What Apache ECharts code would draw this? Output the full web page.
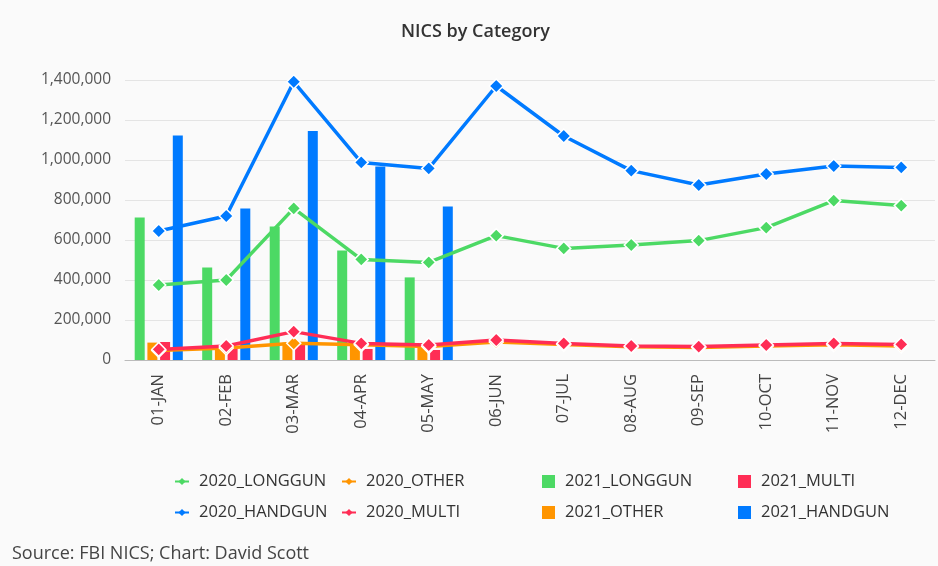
<!DOCTYPE html>
<html>
<head>
<meta charset="utf-8" />
<title>NICS by Category</title>
<script type="text/javascript" src="https://cdn.jsdelivr.net/npm/echarts@6/dist/echarts.min.js"></script>
<style>
  html, body { margin: 0; padding: 0; background: #ffffff; }
  #main { width: 938px; height: 566px; }
</style>
</head>
<body>
<div id="main"></div>
<script type="text/javascript">
    // months
    var months = ['01-JAN','02-FEB','03-MAR','04-APR','05-MAY','06-JUN','07-JUL','08-AUG','09-SEP','10-OCT','11-NOV','12-DEC'];

    // 2020 lines
    var longgun2020 = [375000, 400000, 758000, 503000, 488000, 622000, 558000, 575000, 597000, 662000, 797000, 772000];
    var handgun2020 = [645000, 720000, 1391000, 988000, 958000, 1370000, 1120000, 947000, 875000, 930000, 970000, 963000];
    var other2020 = [48000, 60000, 84000, 76000, 68000, 90000, 78000, 66000, 62000, 70000, 76000, 70000];
    var multi2020 = [53000, 70000, 142000, 83000, 75000, 100000, 83000, 70000, 67000, 75000, 83000, 78000];

    // 2021 bars (jan - may only)
    var longgun2021 = [712000, 463000, 667000, 547000, 413000];
    var other2021 = [87000, 75000, 87000, 85000, 80000];
    var multi2021 = [90000, 65000, 80000, 55000, 50000];
    var handgun2021 = [1122000, 758000, 1145000, 967000, 767000];

    var yMax = 1400000;
    var yStep = 200000;

    var cGreen = '#4cd964', cOrange = '#ff9500', cRed = '#ff2d55', cBlue = '#007aff';

    function lineSeries(name, data, color) {
        return {
            name: name,
            type: 'line',
            data: data,
            z: 5,
            symbol: 'diamond',
            symbolSize: 14,
            color: color,
            lineStyle: { width: 3.5, color: color },
            itemStyle: { color: color, borderColor: '#ffffff', borderWidth: 1.5 }
        };
    }
    function barSeries(name, data, color) {
        return {
            name: name,
            type: 'bar',
            data: data,
            z: 2,
            barWidth: 10,
            barGap: '27%',
            color: color,
            itemStyle: { color: color }
        };
    }

    var legendText = { color: '#333', fontSize: 16.5, fontFamily: 'Open Sans', padding: [0, 0, 0, 5] };
    function legendCol(names, left, isBar) {
        var l = {
            orient: 'vertical',
            left: left,
            top: 468,
            itemGap: 14,
            itemWidth: isBar ? 13 : 14,
            itemHeight: isBar ? 13 : 9,
            textStyle: legendText,
            data: names
        };
        if (isBar) {
            l.icon = 'rect';
        } else {
            l.lineStyle = { width: 2, type: 'solid' };
            l.itemStyle = { borderWidth: 0 };
        }
        return l;
    }

    var myChart = echarts.init(document.getElementById('main'));
    myChart.setOption({
        backgroundColor: '#fafafa',
        animation: false,
        title: [{
            text: 'NICS by Category',
            left: 396,
            top: 18,
            textStyle: { fontSize: 18, fontWeight: 600, color: '#333', fontFamily: 'Open Sans' }
        }, {
            text: 'Source: FBI NICS; Chart: David Scott',
            left: 7,
            top: 540,
            textStyle: { fontSize: 18, fontWeight: 'normal', color: '#444', fontFamily: 'Open Sans' }
        }],
        legend: [
            legendCol(['2020_LONGGUN', '2020_HANDGUN'], 169, false),
            legendCol(['2020_OTHER', '2020_MULTI'], 336, false),
            legendCol(['2021_LONGGUN', '2021_OTHER'], 537, true),
            legendCol(['2021_MULTI', '2021_HANDGUN'], 733, true)
        ],
        grid: { left: 125, right: 3, top: 80, bottom: 206 },
        xAxis: {
            type: 'category',
            data: months,
            axisLine: { lineStyle: { color: '#bbbbbb', width: 1 } },
            axisTick: { show: false },
            axisLabel: { rotate: 90, margin: 14, fontSize: 16.5, color: '#444', fontFamily: 'Open Sans' }
        },
        yAxis: {
            type: 'value',
            min: 0,
            max: yMax,
            interval: yStep,
            axisLine: { show: false },
            axisTick: { show: false },
            splitLine: { lineStyle: { color: '#e4e4e4' } },
            axisLabel: {
                margin: 14, fontSize: 15.5, color: '#555', fontFamily: 'Open Sans',
                formatter: function (v) { return v.toLocaleString('en-US'); }
            }
        },
        series: [
            lineSeries('2020_LONGGUN', longgun2020, cGreen),
            lineSeries('2020_HANDGUN', handgun2020, cBlue),
            lineSeries('2020_OTHER', other2020, cOrange),
            lineSeries('2020_MULTI', multi2020, cRed),
            barSeries('2021_LONGGUN', longgun2021, cGreen),
            barSeries('2021_OTHER', other2021, cOrange),
            barSeries('2021_MULTI', multi2021, cRed),
            barSeries('2021_HANDGUN', handgun2021, cBlue)
        ]
    });
</script>
</body>
</html>
